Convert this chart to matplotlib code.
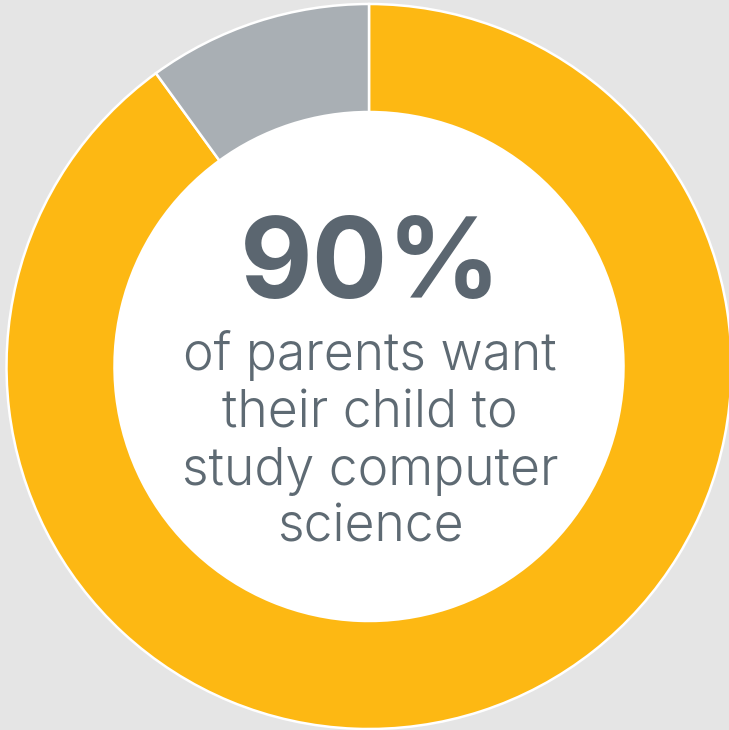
import matplotlib
matplotlib.use("Agg")
import matplotlib.pyplot as plt
from matplotlib.patches import Circle
from matplotlib import font_manager as fm

labels = ["Want CS", "Other"]
values = [90, 10]
colors = ["#FDB813", "#A9AFB4"]
headline = "90%"
caption_lines = ["of parents want", "their child to", "study computer", "science"]

W, H = 729, 730
fig = plt.figure(figsize=(W / 100, H / 100), dpi=100)
fig.patch.set_facecolor("#E5E5E5")
ax = fig.add_axes([0, 0, 1, 1])

cx, cy = 369, H - 366.5
R_out, R_in = 362.5, 254.5

ax.pie(values, colors=colors, startangle=90, counterclock=False,
       radius=R_out, center=(cx, cy), frame=True,
       wedgeprops=dict(width=R_out - R_in, edgecolor="white", linewidth=1.8))
ax.add_patch(Circle((cx, cy), R_in, facecolor="white", edgecolor="none", zorder=3))
ax.set_xlim(0, W)
ax.set_ylim(0, H)
ax.set_aspect("equal")
ax.axis("off")

# pick a light weight of Inter if present
cap_weight = "normal"
for f in fm.fontManager.ttflist:
    if f.name == "Inter" and f.weight in (300, "light"):
        cap_weight = 300
        break

txt_color = "#5B6670"
fig.canvas.draw()
r = fig.canvas.get_renderer()

h = ax.text(371, H - 298, headline, ha="center", va="baseline", fontsize=86,
            fontweight="bold", family="Inter", color=txt_color, zorder=4)
w = h.get_window_extent(r).width
h.set_fontsize(86 * 262 / w)

baselines = [370, 427, 485, 542]
ts = []
for line, b in zip(caption_lines, baselines):
    ts.append(ax.text(370, H - b, line, ha="center", va="baseline", fontsize=33,
                      fontweight=cap_weight, family="Inter", color="#5E6A73", zorder=4))
w1 = ts[0].get_window_extent(r).width
for t in ts:
    t.set_fontsize(33 * 374 / w1)

fig.savefig("out.png", dpi=100, facecolor=fig.get_facecolor())
